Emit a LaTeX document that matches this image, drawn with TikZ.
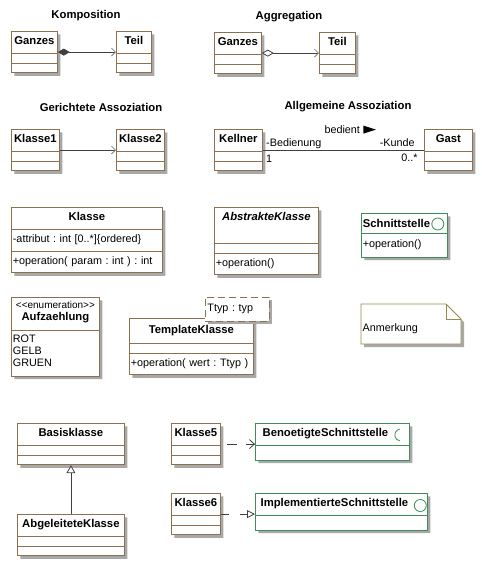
\documentclass[tikz,border=0pt]{standalone}
\usepackage{fontspec}
\setmainfont{Liberation Sans}
\usetikzlibrary{shapes.multipart,shadows,arrows.meta}
\frenchspacing

\definecolor{umlbrown}{RGB}{140,112,82}
\definecolor{umlgreen}{RGB}{64,140,90}
\definecolor{umlnote}{RGB}{150,138,80}
\definecolor{umlshadow}{RGB}{168,168,168}
\definecolor{umlline}{RGB}{64,64,64}
\definecolor{umltip}{RGB}{128,128,128}

\newcommand{\umlfont}{\fontsize{10.8}{12}\selectfont}
\newcommand{\umlbold}{\fontsize{11.3}{12}\selectfont\bfseries}
\newcommand{\cpart}[1]{\rule[-8pt]{0pt}{21pt}#1}
\newcommand{\epart}{\rule{0pt}{9pt}}
\newcommand{\cmid}[1]{\hfill#1\hfill\null}
\newcommand{\chead}[1]{\cpart{\cmid{\umlbold #1}}}
\newcommand{\emptyclass}[1]{\chead{#1}\nodepart{two}\epart\nodepart{three}\epart}

\tikzset{
  umlshade/.style={drop shadow={shadow xshift=3pt,shadow yshift=-3pt,fill=umlshadow,opacity=1}},
  umlclass/.style={rectangle split, rectangle split parts=3, draw=umlbrown, line width=0.8pt,
    fill=white, umlshade, text width=#1, inner xsep=1.5pt, inner ysep=0pt,
    anchor=north west, align=left, font=\umlfont},
  umliface/.style={umlclass=#1, rectangle split parts=2, draw=umlgreen},
  ifacecircle/.style={circle, draw=umlgreen, line width=0.8pt, minimum size=12pt, inner sep=0pt},
  tparam/.style={draw=umlbrown, line width=0.8pt, dash pattern=on 7pt off 4pt, fill=white,
    umlshade, anchor=north west, minimum width=64pt, minimum height=24pt, text width=60pt,
    inner xsep=2pt, align=left, font=\umlfont},
  notebox/.style={draw=umlnote, line width=0.8pt, fill=white, umlshade},
  notefold/.style={draw=umlnote, line width=0.8pt},
  umltitle/.style={font=\umlbold},
  rolelabel/.style={font=\umlfont, inner sep=0pt},
  assoc/.style={draw=umlline, line width=0.8pt},
  comp/.style={assoc, {Diamond[length=12pt,width=7pt]}-{Straight Barb[length=4pt,width=8pt,color=umltip]}},
  aggr/.style={assoc, {Diamond[open,length=12pt,width=7pt,fill=white]}-{Straight Barb[length=4pt,width=8pt,color=umltip]}},
  navig/.style={assoc, -{Straight Barb[length=4pt,width=8pt,color=umltip]}},
  gener/.style={assoc, -{Triangle[open,length=8pt,width=9pt,fill=white]}},
  depend/.style={assoc, dash pattern=on 10pt off 9pt, dash phase=13pt, -{Straight Barb[length=5pt,width=9pt]}},
  realize/.style={assoc, dash pattern=on 10pt off 11pt, dash phase=2pt, -{Triangle[open,length=8pt,width=8pt,fill=white]}},
}

\begin{document}
\begin{tikzpicture}[x=1pt, y=-1pt]
  \useasboundingbox[fill=white] (0,0) rectangle (482,563);

  % Komposition
  \node[umltitle] (kompTitle) at (86,16) {Komposition};
  \node[umlclass=43pt] (kompGanzes) at (11,31) {\emptyclass{Ganzes}};
  \node[umlclass=32pt] (kompTeil) at (116,31) {\emptyclass{Teil}};
  \draw[comp] (kompGanzes) -- (kompTeil);

  % Aggregation
  \node[umltitle] (aggrTitle) at (289,17) {Aggregation};
  \node[umlclass=44pt] (aggrGanzes) at (214,32) {\emptyclass{Ganzes}};
  \node[umlclass=33pt] (aggrTeil) at (319,32) {\emptyclass{Teil}};
  \draw[aggr] (aggrGanzes) -- (aggrTeil);

  % Gerichtete Assoziation
  \node[umltitle] (navTitle) at (101,107) {Gerichtete Assoziation};
  \node[umlclass=45pt] (klasse1) at (11,129) {\emptyclass{Klasse1}};
  \node[umlclass=45pt] (klasse2) at (116,129) {\emptyclass{Klasse2}};
  \draw[navig] (klasse1) -- (klasse2);

  % Allgemeine Assoziation
  \node[umltitle] (assocTitle) at (348,107) {Allgemeine Assoziation};
  \node[umlclass=45pt] (kellner) at (214,129) {\emptyclass{Kellner}};
  \node[umlclass=45pt] (gast) at (424,129) {\emptyclass{Gast}};
  \draw[assoc] (kellner) -- (gast)
    node[rolelabel, pos=0, anchor=base west, xshift=3pt, yshift=3.5pt] (rolle1) {-Bedienung}
    node[rolelabel, pos=0, anchor=base west, xshift=3pt, yshift=-12.5pt] (mult1) {1}
    node[rolelabel, pos=1, anchor=base east, xshift=-9pt, yshift=3.5pt] (rolle2) {-Kunde}
    node[rolelabel, pos=1, anchor=base east, xshift=-6pt, yshift=-11pt] (mult2) {0..*}
    node[rolelabel, midway, anchor=base east, xshift=17pt, yshift=17pt] (bedient) {bedient};
  \fill ([xshift=3pt,yshift=3.5pt]bedient.base east) -- ++(0,4) -- ++(12.5,-4) -- ++(-12.5,-4) -- cycle;

  % Klasse, abstrakte Klasse, Schnittstelle
  \node[umlclass=148pt] (klasse) at (11,207)
    {\chead{Klasse}\nodepart{two}\cpart{-attribut : int [0..*]\{ordered\}}\nodepart{three}\cpart{+operation( param : int ) : int}};
  \node[umlclass=101pt] (abstrakt) at (214,207)
    {\rule[-22pt]{0pt}{35pt}\cmid{\umlbold\itshape AbstrakteKlasse}\nodepart{two}\epart\nodepart{three}\cpart{+operation()}};
  \node[umliface=83pt] (schnitt) at (361,213)
    {\rule[-5pt]{0pt}{19pt}{\umlbold Schnittstelle}\nodepart{two}\rule[-9pt]{0pt}{23pt}+operation()};
  \node[ifacecircle] (schnittIcon) at ([xshift=-10pt,yshift=-11pt]schnitt.north east) {};

  % Aufzaehlung, Template, Anmerkung
  \node[umlclass=85pt, rectangle split parts=2] (aufz) at (11,297)
    {\fontsize{10.8}{16}\selectfont\rule{0pt}{11pt}\cmid{\fontsize{10}{10}\selectfont <{}<enumeration>{}>}\\
     \rule[-9pt]{0pt}{0pt}\cmid{\umlbold Aufzaehlung}
     \nodepart{two}\rule{0pt}{12pt}ROT\\GELB\\GRUEN\rule[-9pt]{0pt}{0pt}};
  \node[umlclass=121pt] (templ) at (129,318)
    {\rule[-9pt]{0pt}{24pt}\cmid{\umlbold TemplateKlasse}\nodepart{two}\epart\nodepart{three}\cpart{+operation( wert : Ttyp )}};
  \node[tparam] (templParam) at (205,297) {Ttyp : typ};
  \filldraw[notebox] (361,304) -- (446,304) -- (461,319) -- (461,344) -- (361,344) -- cycle;
  \draw[notefold] (446,304) -- (446,319) -- (461,319);
  \node[rolelabel, anchor=base west] (anmerkung) at (362.5,331) {Anmerkung};

  % Generalisierung
  \node[umlclass=104pt] (basis) at (17,423) {\emptyclass{Basisklasse}};
  \node[umlclass=104pt] (abgeleitet) at (17,514) {\emptyclass{AbgeleiteteKlasse}};
  \draw[gener] (abgeleitet) -- (basis);

  % benoetigte und implementierte Schnittstelle
  \node[umlclass=46pt] (klasse5) at (171,423) {\emptyclass{Klasse5}};
  \node[umliface=151pt] (benoetigt) at (255,423)
    {\cpart{\hfill{\umlbold BenoetigteSchnittstelle}\hfill\hspace{14pt}\null}\nodepart{two}\rule{0pt}{14pt}};
  \draw[umlgreen, line width=0.8pt] ([xshift=-9pt,yshift=-12pt]benoetigt.north east) +(100:6pt) arc[start angle=100, end angle=260, radius=6pt];
  \node[umlclass=46pt] (klasse6) at (171,493) {\emptyclass{Klasse6}};
  \node[umliface=169pt] (implementiert) at (255,493)
    {\cpart{\hfill{\umlbold ImplementierteSchnittstelle}\hfill\hspace{14pt}\null}\nodepart{two}\rule{0pt}{14pt}};
  \node[ifacecircle] (implIcon) at ([xshift=-7.5pt,yshift=-12.5pt]implementiert.north east) {};
  \draw[depend] (klasse5.east) -- (klasse5.east -| benoetigt.west);
  \draw[realize] (klasse6.east) -- (klasse6.east -| implementiert.west);
\end{tikzpicture}
\end{document}
